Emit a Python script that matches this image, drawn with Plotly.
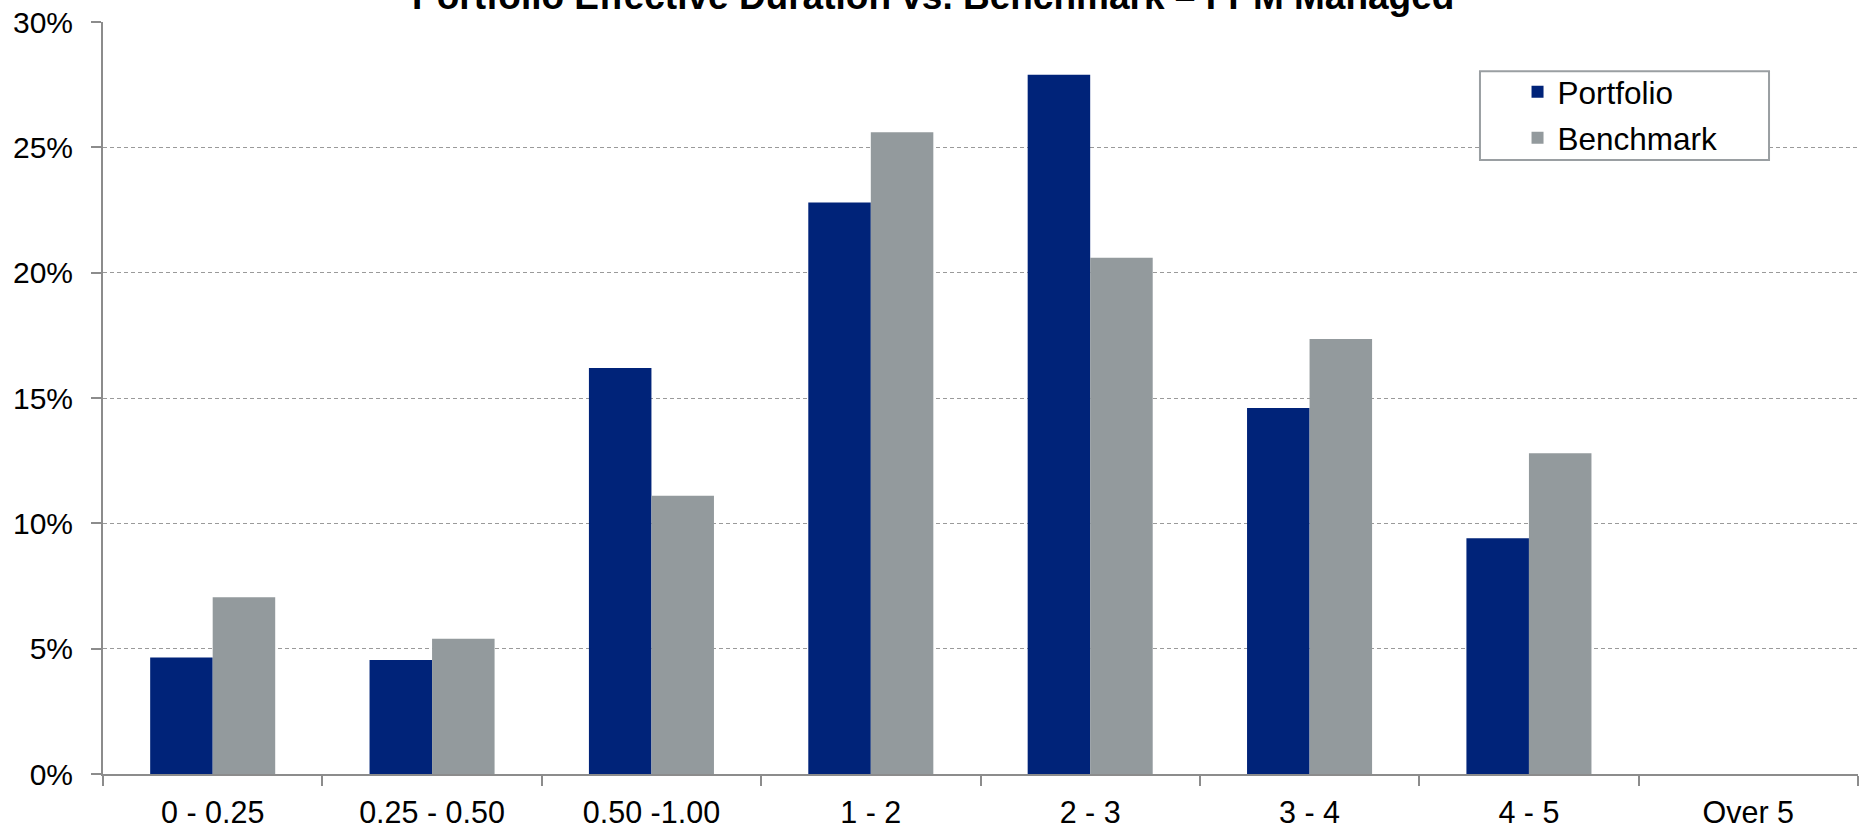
import plotly.graph_objects as go

# Effective duration buckets (years) and allocation shares (%)
categories = ["0 - 0.25", "0.25 - 0.50", "0.50 -1.00", "1 - 2", "2 - 3", "3 - 4", "4 - 5", "Over 5"]
portfolio = [4.65, 4.55, 16.2, 22.8, 27.9, 14.6, 9.4, 0.0]
benchmark = [7.05, 5.4, 11.1, 25.6, 20.6, 17.35, 12.8, 0.0]

title_text = "Portfolio Effective Duration vs. Benchmark – FPM Managed"
FONT = "Arial, 'Liberation Sans', sans-serif"
NAVY = "#002379"
GREY = "#939A9D"
AXIS = "#8C8C8C"

fig = go.Figure()
fig.add_trace(go.Bar(name="Portfolio", x=categories, y=portfolio,
                     marker=dict(color=NAVY, line=dict(width=0)), legendgroup="p"))
fig.add_trace(go.Bar(name="Benchmark", x=categories, y=benchmark,
                     marker=dict(color=GREY, line=dict(width=0)), legendgroup="b"))

fig.update_layout(
    width=1860, height=828,
    margin=dict(l=103, r=2, t=22, b=54, autoexpand=False),
    paper_bgcolor="white", plot_bgcolor="white",
    font=dict(family=FONT, size=30, color="black"),
    barmode="group", bargap=0.43, bargroupgap=0,
    showlegend=True,
    legend=dict(x=0.806, y=0.943, xanchor="left", yanchor="top",
                bgcolor="rgba(0,0,0,0)", borderwidth=0,
                font=dict(family=FONT, size=31.5), tracegroupgap=2,
                traceorder="grouped"),
)

fig.update_xaxes(
    type="category", range=[-0.5, 7.5],
    showline=True, linecolor=AXIS, linewidth=2,
    ticks="outside", tickson="boundaries", ticklen=10, tickcolor=AXIS, tickwidth=2,
    ticklabelstandoff=10,
    showgrid=False, tickfont=dict(family=FONT, size=30.5),
)
fig.update_yaxes(
    range=[0, 30], dtick=5, ticksuffix="%",
    showline=True, linecolor=AXIS, linewidth=2,
    ticks="outside", ticklen=10, tickcolor=AXIS, tickwidth=2,
    ticklabelstandoff=12,
    showgrid=True, gridcolor="#9A9A9A", gridwidth=1, griddash="4px,3px",
    zeroline=False, tickfont=dict(family=FONT, size=30),
)

# Legend frame
fig.add_shape(type="rect", xref="paper", yref="paper",
              x0=0.7846, x1=0.9493, y0=0.8165, y1=0.9345,
              line=dict(color="#9A9FA2", width=2), fillcolor="white", layer="above")

# Title, partly above the plotting area
fig.add_annotation(text="<b>" + title_text + "</b>", xref="paper", yref="paper",
                   x=0.473, y=1.034, xanchor="center", yanchor="middle",
                   showarrow=False, font=dict(family=FONT, size=37, color="black"))

fig.write_html("out.html")
